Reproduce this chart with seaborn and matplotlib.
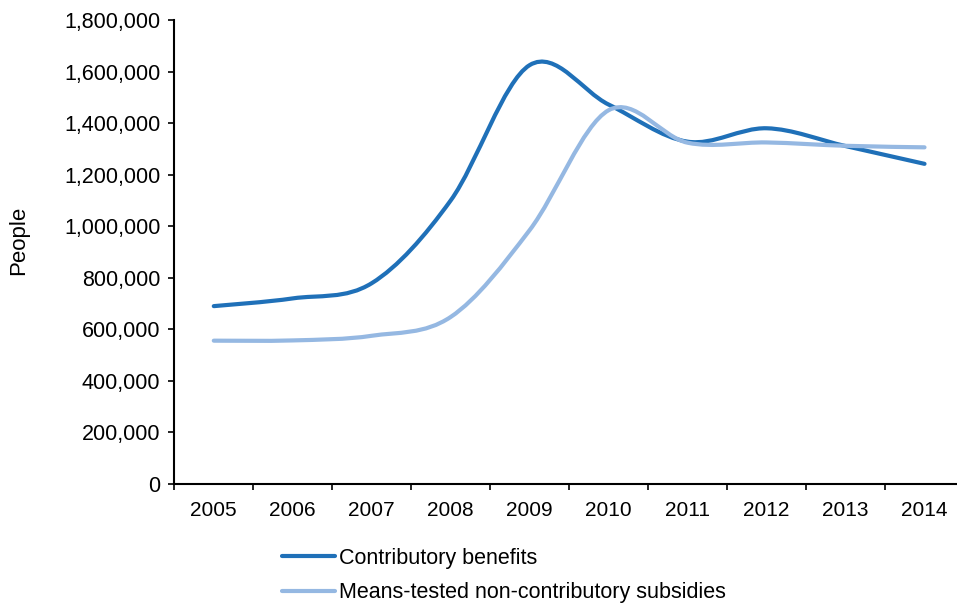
import numpy as np
import pandas as pd
import matplotlib
matplotlib.use("Agg")
import matplotlib.pyplot as plt
import seaborn as sns
from matplotlib.path import Path
from matplotlib.patches import PathPatch
from matplotlib.lines import Line2D
from matplotlib.ticker import FuncFormatter

years = ["2005", "2006", "2007", "2008", "2009", "2010", "2011", "2012", "2013", "2014"]
contributory = [690000, 720000, 779000, 1100000, 1625000, 1472000, 1328000, 1380000, 1311000, 1242000]
means_tested = [556000, 557000, 575000, 648000, 985000, 1450000, 1324000, 1325000, 1312000, 1306000]
series_names = ["Contributory benefits", "Means-tested non-contributory subsidies"]
colors = ["#1F70B8", "#95B8E2"]
yticks = list(range(0, 1800001, 200000))

df = pd.concat([
    pd.DataFrame({"pos": np.arange(len(years)), "value": contributory, "series": series_names[0]}),
    pd.DataFrame({"pos": np.arange(len(years)), "value": means_tested, "series": series_names[1]}),
])

sns.set_theme(style="white")
plt.rcParams["font.family"] = ["Liberation Sans", "DejaVu Sans"]
plt.rcParams["text.color"] = "black"

fig = plt.figure(figsize=(9.57, 6.05), dpi=100)
ax = fig.add_axes([174.3 / 957, 121 / 605, (964 - 174.3) / 957, 464 / 605])

sns.lineplot(data=df, x="pos", y="value", hue="series", palette=colors,
             hue_order=series_names, legend=False, ax=ax, linewidth=3)


def smooth(xs, ys):
    pts = np.column_stack([xs, ys]).astype(float)
    n = len(pts)
    verts = [pts[0]]
    codes = [Path.MOVETO]
    for i in range(n - 1):
        p0 = pts[i - 1] if i > 0 else pts[i]
        p3 = pts[i + 2] if i + 2 < n else pts[i + 1]
        c1 = pts[i] + (pts[i + 1] - p0) / 6.0
        c2 = pts[i + 1] - (p3 - pts[i]) / 6.0
        verts += [c1, c2, pts[i + 1]]
        codes += [Path.CURVE4] * 3
    return Path(verts, codes)


for line in list(ax.get_lines()):
    xd, yd = line.get_xdata(), line.get_ydata()
    col = line.get_color()
    line.set_visible(False)
    patch = PathPatch(smooth(xd, yd), fill=False, edgecolor=col, lw=3,
                      capstyle="round", joinstyle="round", transform=ax.transData)
    ax.add_patch(patch)

ax.set_xlim(-0.5, 9.5)
ax.set_ylim(0, 1800000)
ax.set_yticks(yticks)
ax.yaxis.set_major_formatter(FuncFormatter(lambda v, p: f"{int(v):,}"))
ax.set_xticks(np.arange(-0.5, len(years), 1.0))
ax.set_xticklabels([""] * len(np.arange(-0.5, len(years), 1.0)))
ax.set_xticks(np.arange(len(years)), minor=True)
ax.set_xticklabels(years, minor=True)
ax.tick_params(axis="x", which="major", direction="out", length=4, width=1.2, color="black", bottom=True)
ax.tick_params(axis="x", which="minor", length=0, pad=12, labelsize=15, colors="#000000", bottom=True)
ax.tick_params(axis="y", direction="out", length=4, width=1.2, color="black", pad=6, labelsize=15.5, left=True,
               labelcolor="#000000")
ax.set_xlabel("")
ax.set_ylabel("")
for s in ["top", "right"]:
    ax.spines[s].set_visible(False)
for s in ["left", "bottom"]:
    ax.spines[s].set_color("black")
    ax.spines[s].set_linewidth(1.5)
ax.grid(False)

fig.text(19 / 957, 1 - 240 / 605, "People", rotation=90, ha="center", va="center", fontsize=16, color="black")

handles = [Line2D([], [], color=c, lw=3) for c in colors]
leg = fig.legend(handles, series_names, loc="upper left", bbox_to_anchor=(282 / 957, 1 - 548 / 605),
                 frameon=False, fontsize=15.5, handlelength=2.45, handletextpad=0.2, labelspacing=0.62,
                 borderpad=0, borderaxespad=0)
for t in leg.get_texts():
    t.set_color("black")

fig.savefig("out.png", dpi=100)
